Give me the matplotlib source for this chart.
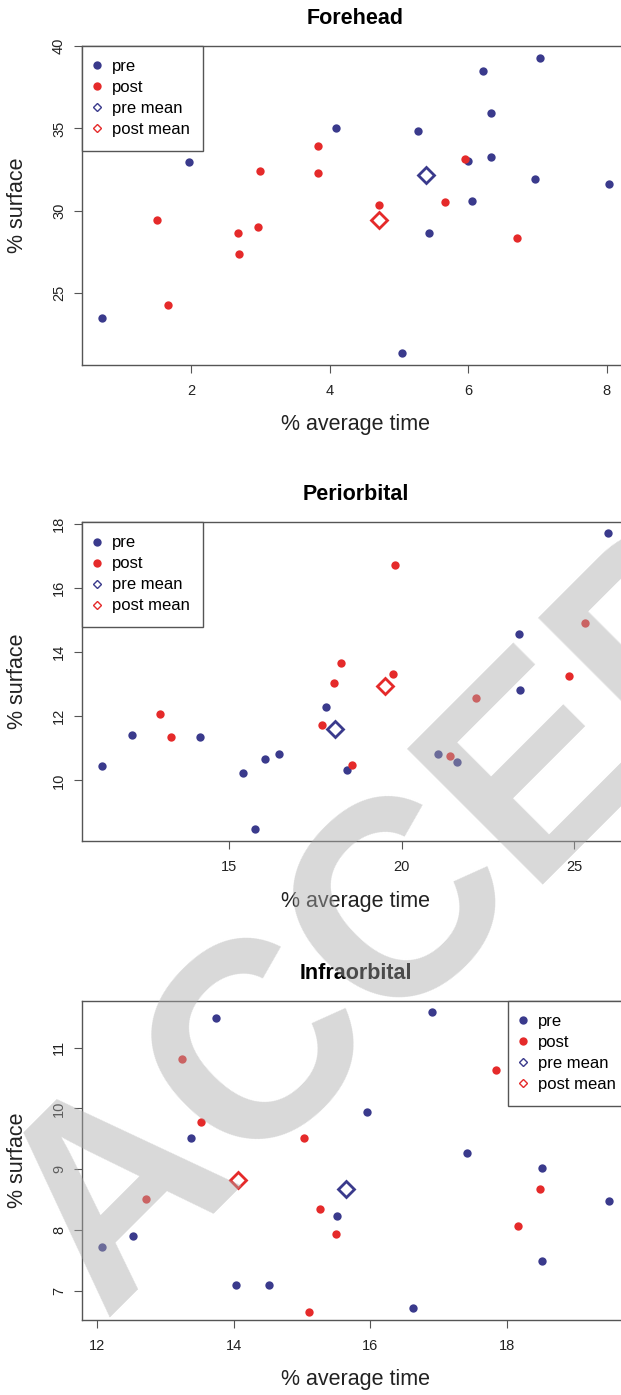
import matplotlib
matplotlib.use('Agg')
import matplotlib.pyplot as plt
from matplotlib.lines import Line2D

plt.rcParams['font.family'] = ['Liberation Sans', 'DejaVu Sans']

# Forehead
fore_pre_x = [0.72, 1.97, 4.09, 5.05, 5.27, 5.43, 5.99, 6.05, 6.21, 6.33, 6.33, 6.96, 7.03, 8.03]
fore_pre_y = [23.52, 32.99, 35.03, 21.37, 34.85, 28.63, 33.01, 30.59, 38.46, 35.94, 33.25, 31.94, 39.29, 31.6]
fore_post_x = [1.51, 1.67, 2.68, 2.69, 2.97, 3.0, 3.84, 3.84, 4.71, 5.67, 5.95, 6.70]
fore_post_y = [29.43, 24.3, 28.63, 27.41, 29.03, 32.4, 33.96, 32.3, 30.38, 30.53, 33.15, 28.34]
fore_medias = [(5.39, 32.18), (4.71, 29.45)]

# Periorbital
peri_pre_x = [11.31, 12.17, 14.16, 15.41, 15.76, 16.05, 16.45, 17.81, 18.43, 21.05, 21.61, 23.42, 23.45, 26.0]
peri_pre_y = [10.45, 11.40, 11.36, 10.24, 8.48, 10.67, 10.82, 12.30, 10.33, 10.81, 10.58, 14.55, 12.82, 17.71]
peri_post_x = [12.99, 13.32, 17.68, 18.04, 18.25, 18.56, 19.74, 19.81, 21.40, 22.16, 24.86, 25.31]
peri_post_y = [12.06, 11.36, 11.73, 13.03, 13.65, 10.47, 13.31, 16.72, 10.76, 12.58, 13.24, 14.91]
peri_medias = [(18.07, 11.61), (19.53, 12.94)]

# Infraorbital
infra_pre_x = [12.07, 12.52, 13.37, 13.74, 14.04, 14.52, 15.51, 15.96, 16.62, 16.90, 17.41, 18.51, 18.52, 19.49]
infra_pre_y = [7.72, 7.90, 9.52, 11.49, 7.10, 7.10, 8.23, 9.94, 6.72, 11.58, 9.27, 9.02, 7.49, 8.48]
infra_post_x = [12.72, 13.25, 13.52, 15.03, 15.11, 15.26, 15.50, 17.84, 18.17, 18.49]
infra_post_y = [8.51, 10.81, 9.77, 9.52, 6.65, 8.34, 7.93, 10.64, 8.07, 8.67]
infra_medias = [(15.65, 8.68), (14.07, 8.83)]

titulos = ['Forehead', 'Periorbital', 'Infraorbital']
xticks = [[2, 4, 6, 8], [15, 20, 25], [12, 14, 16, 18]]
yticks = [[25, 30, 35, 40], [10, 12, 14, 16, 18], [7, 8, 9, 10, 11]]
xlims = [(0.43, 8.32), (10.73, 26.6), (11.78, 19.79)]
ylims = [(20.65, 40.01), (8.11, 18.05), (6.52, 11.77)]
legenda_loc = ['upper left', 'upper left', 'upper right']

dados = [
    (fore_pre_x, fore_pre_y, fore_post_x, fore_post_y, fore_medias),
    (peri_pre_x, peri_pre_y, peri_post_x, peri_post_y, peri_medias),
    (infra_pre_x, infra_pre_y, infra_post_x, infra_post_y, infra_medias),
]

azul = '#3a3a8c'
vermelho = '#e52a2a'
cinza = '#555555'

fig = plt.figure(figsize=(6.21, 13.95), dpi=100)
fundos = [0.7384, 0.3971, 0.0538]

for i, (px, py, qx, qy, medias) in enumerate(dados):
    ax = fig.add_axes([0.132, fundos[i], 0.881, 0.2287])
    ax.plot(px, py, 'o', color=azul, ms=6, mec='none')
    ax.plot(qx, qy, 'o', color=vermelho, ms=6, mec='none')
    ax.plot(medias[0][0], medias[0][1], 'D', mfc='none', mec=azul, ms=8, mew=2)
    ax.plot(medias[1][0], medias[1][1], 'D', mfc='none', mec=vermelho, ms=8, mew=2)

    ax.set_xlim(xlims[i])
    ax.set_ylim(ylims[i])
    ax.set_xticks(xticks[i])
    ax.set_yticks(yticks[i])
    for s in ax.spines.values():
        s.set_color(cinza)
        s.set_linewidth(1.0)
    ax.tick_params(length=5.5, width=0.8, color=cinza, labelsize=10.5, labelcolor='#222222')
    ax.tick_params(axis='x', pad=8)
    ax.tick_params(axis='y', pad=6)
    for lab in ax.get_yticklabels():
        lab.set_rotation(90)
        lab.set_va('center')

    ax.set_title(titulos[i], fontsize=15.5, fontweight='bold', y=1.085, va='center', pad=0)
    ax.set_xlabel('% average time', fontsize=15.5, va='center', color='#222222')
    ax.xaxis.set_label_coords(0.5, -0.188)
    ax.set_ylabel('% surface', fontsize=15.5, va='center', color='#222222')
    ax.yaxis.set_label_coords(-0.117, 0.5)

    alcas = [
        Line2D([], [], ls='none', marker='o', color=azul, ms=6, mec='none'),
        Line2D([], [], ls='none', marker='o', color=vermelho, ms=6, mec='none'),
        Line2D([], [], ls='none', marker='D', mfc='none', mec=azul, ms=4, mew=1),
        Line2D([], [], ls='none', marker='D', mfc='none', mec=vermelho, ms=4, mew=1),
    ]
    leg = ax.legend(alcas, ['pre', 'post', 'pre mean', 'post mean'], loc=legenda_loc[i],
                    borderaxespad=0, fancybox=False, framealpha=1, edgecolor=cinza,
                    fontsize=12, borderpad=0.8, labelspacing=0.36, handlelength=0.2,
                    handletextpad=0.8)
    leg.get_frame().set_linewidth(1.0)

# marca d'agua
fig.text(103 / 621, 1 - 1318 / 1395, 'ACCEPTED', rotation=45, rotation_mode='anchor',
         ha='left', va='baseline', fontsize=200, fontweight='bold',
         color='#aaaaaa', alpha=0.45, zorder=10)

fig.savefig('out.png', dpi=100)
